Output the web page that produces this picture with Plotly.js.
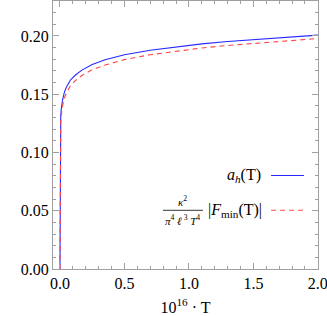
<!DOCTYPE html>
<html><head><meta charset="utf-8">
<script src="https://cdn.plot.ly/plotly-3.0.1.min.js"></script>
<style>html,body{margin:0;padding:0;background:#fff;}#chart{width:327px;height:316px;}</style>
</head><body><div id="chart"></div>
<script>
// Data
const T = [0, 0.0003, 0.001, 0.003, 0.006, 0.01, 0.02, 0.035, 0.05, 0.08, 0.12, 0.17, 0.25, 0.35, 0.5, 0.7, 0.9, 1.1, 1.3, 1.5, 1.75, 2.0];
const aH = [0, 0.07, 0.105, 0.122, 0.131, 0.137, 0.145, 0.152, 0.156, 0.162, 0.1665, 0.1707, 0.1755, 0.1795, 0.1838, 0.1878, 0.1908, 0.1932, 0.1952, 0.1969, 0.1988, 0.2007];
const fMin = [0, 0.065, 0.10, 0.117, 0.126, 0.132, 0.140, 0.147, 0.151, 0.157, 0.1618, 0.166, 0.171, 0.175, 0.1797, 0.1839, 0.1871, 0.1897, 0.1918, 0.1937, 0.1958, 0.1978];
const xTickVals = [0, 0.5, 1, 1.5, 2];
const xTickText = ['0.0', '0.5', '1.0', '1.5', '2.0'];
const yTickVals = [0, 0.05, 0.1, 0.15, 0.2];
const yTickText = ['0.00', '0.05', '0.10', '0.15', '0.20'];

const serif = 'Liberation Serif';
const frame = '#a0a0a0';
const blue = 'rgb(40,40,255)';
const red = 'rgb(255,70,70)';

const traces = [
  {x: T, y: aH, mode: 'lines', line: {color: blue, width: 1.1}, name: 'a_h(T)', showlegend: false},
  {x: T, y: fMin, mode: 'lines', line: {color: red, width: 1.1, dash: '5px,4px'}, name: 'F_min', showlegend: false}
];

function axisBase() {
  return {
    showgrid: false, zeroline: false, showline: true, linecolor: frame, linewidth: 1,
    mirror: 'ticks', ticks: 'inside', tickcolor: frame, ticklen: 6, tickwidth: 1,
    ticklabeloverflow: 'allow',
    tickfont: {family: serif, size: 16, color: '#000'}
  };
}

const layout = {
  width: 327, height: 316,
  font: {family: serif, size: 16, color: '#000'},
  margin: {l: 53, r: 9, t: 1, b: 47},
  paper_bgcolor: '#fff', plot_bgcolor: '#fff',
  xaxis: Object.assign(axisBase(), {
    range: [-0.054, 2.001], tickmode: 'array', tickvals: xTickVals, ticktext: xTickText,
    minor: {dtick: 0.1, ticks: 'inside', ticklen: 3, tickcolor: frame},
    title: {text: '10<sup>16</sup> · T', font: {family: serif, size: 16, color: '#000'}}
  }),
  yaxis: Object.assign(axisBase(), {
    range: [0, 0.23], tickmode: 'array', tickvals: yTickVals, ticktext: yTickText,
    minor: {dtick: 0.01, ticks: 'inside', ticklen: 3, tickcolor: frame}
  }),
  showlegend: false,
  annotations: [
    {xref: 'paper', yref: 'paper', x: 0.792, y: 0.349, xanchor: 'right', yanchor: 'middle', showarrow: false,
     text: '<i>a</i><sub><i>h</i></sub>(T)', font: {family: serif, size: 16, color: '#000'}},
    {xref: 'paper', yref: 'paper', x: 0.796, y: 0.219, xanchor: 'right', yanchor: 'middle', showarrow: false,
     text: '|<i>F</i><sub>min</sub>(T)|', font: {family: serif, size: 16, color: '#000'}},
    {xref: 'paper', yref: 'paper', x: 0.49, y: 0.222, xanchor: 'center', yanchor: 'bottom', showarrow: false,
     text: '<i>κ</i><sup>2</sup>', font: {family: serif, size: 11, color: '#000'}},
    {xref: 'paper', yref: 'paper', x: 0.49, y: 0.216, xanchor: 'center', yanchor: 'top', showarrow: false,
     text: '<i>π</i><sup>4</sup> <i>ℓ</i><sup> 3</sup> <i>T</i><sup>4</sup>', font: {family: serif, size: 11, color: '#000'}}
  ],
  shapes: [
    {type: 'line', xref: 'paper', yref: 'paper', x0: 0.823, x1: 0.947, y0: 0.349, y1: 0.349, line: {color: blue, width: 1.1}},
    {type: 'line', xref: 'paper', yref: 'paper', x0: 0.823, x1: 0.947, y0: 0.219, y1: 0.219, line: {color: red, width: 1.1, dash: '5px,4px'}},
    {type: 'line', xref: 'paper', yref: 'paper', x0: 0.415, x1: 0.566, y0: 0.219, y1: 0.219, line: {color: '#000', width: 0.8}}
  ]
};

Plotly.newPlot('chart', traces, layout, {displayModeBar: false});
</script></body></html>
